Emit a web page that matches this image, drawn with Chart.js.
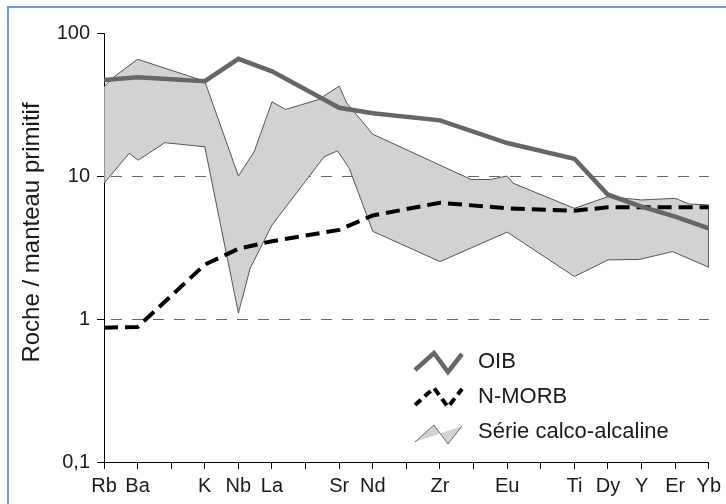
<!DOCTYPE html>
<html>
<head>
<meta charset="utf-8">
<script src="https://cdn.jsdelivr.net/npm/chart.js@4/dist/chart.umd.min.js"></script>
<style>
  html, body { margin: 0; padding: 0; background: #fff; }
  #wrap { position: relative; width: 726px; height: 504px; overflow: hidden; }
  #frame { position: absolute; left: 7px; top: 6px; width: 800px; height: 600px;
           border-left: 2px solid #6b9bd6; border-top: 2px solid #6b9bd6; }
  canvas { position: absolute; left: 0; top: 0; }
</style>
</head>
<body>
<div id="wrap">
  <div id="frame"></div>
  <canvas id="spider" width="726" height="504"></canvas>
</div>
<script>
// element order on the x axis (blank = unlabelled tick)
const xLabels = ['Rb', 'Ba', '', 'K', 'Nb', 'La', '', 'Sr', 'Nd', '', 'Zr', '', 'Eu', '', 'Ti', 'Dy', 'Y', 'Er', 'Yb']

// y ticks (log scale)
const yTickValues = [0.1, 1, 10, 100]
const yTickLabels = ['0,1', '1', '10', '100']
const yTitle = 'Roche / manteau primitif'

// OIB
const oibX = [0, 1, 3, 4, 5, 7, 8, 10, 12, 14, 15, 16, 17, 18]
const oibY = [47, 49, 46, 66, 54, 30, 27.5, 24.5, 17, 13.2, 7.4, 6.1, 5.2, 4.3]

// N-MORB
const morbX = [0, 1, 3, 4, 5, 7, 8, 10, 12, 14, 15, 16, 17, 18]
const morbY = [0.87, 0.88, 2.4, 3.1, 3.5, 4.2, 5.3, 6.5, 5.95, 5.72, 6.04, 6.04, 6.04, 6.04]

// Série calco-alcaline : upper and lower limits of the field
const upperX = [0, 0.28, 1, 3, 4, 4.47, 5, 5.41, 6.38, 7, 7.22, 8, 10.93, 11.5, 12, 12.18, 14, 15, 16, 17, 17.42, 18]
const upperY = [42, 49, 65.5, 46, 10, 14.8, 33, 29.2, 34.2, 42.5, 32.5, 19.6, 9.45, 9.45, 10, 8.9, 5.94, 7.17, 6.8, 6.98, 6.37, 6.27]
const lowerX = [0, 0.75, 1.02, 1.81, 3, 4, 4.35, 5, 6.55, 6.95, 7.3, 8, 10, 12, 12.18, 14, 15, 15.94, 16.92, 18]
const lowerY = [8.9, 14.4, 12.9, 17.1, 16, 1.1, 2.26, 4.54, 13.6, 15, 11.3, 4.1, 2.52, 4.05, 3.8, 1.98, 2.59, 2.61, 2.96, 2.3]

const FONT = "'Liberation Sans', Arial, sans-serif"

function toPoints(xs, ys) {
  return xs.map((x, i) => ({ x: x, y: ys[i] }))
}

// closed outline: upper left->right, lower right->left
function bandOutline() {
  const up = toPoints(upperX, upperY)
  const low = toPoints(lowerX, lowerY).reverse()
  return up.concat(low, [up[0]])
}

// y title + legend drawn by hand
const extrasPlugin = {
  id: 'extras',
  afterDraw(chart) {
    const ctx = chart.ctx
    const a = chart.chartArea
    const x0 = a.left + 311
    const y0 = a.top + 320

    ctx.save()
    // axis title, a bit above the middle like the original
    ctx.translate(32, (a.top + a.bottom) / 2 - 15)
    ctx.rotate(-Math.PI / 2)
    ctx.fillStyle = '#1a1a1a'
    ctx.font = '24px ' + FONT
    ctx.textAlign = 'center'
    ctx.textBaseline = 'middle'
    ctx.fillText(yTitle, 0, 0)
    ctx.restore()

    function zig(dy) {
      ctx.beginPath()
      ctx.moveTo(x0, y0 + dy + 17)
      ctx.lineTo(x0 + 19, y0 + dy)
      ctx.lineTo(x0 + 33, y0 + dy + 19)
      ctx.lineTo(x0 + 47, y0 + dy + 1)
    }

    ctx.save()
    // OIB
    ctx.strokeStyle = '#666'
    ctx.lineWidth = 4.5
    zig(0)
    ctx.stroke()
    // N-MORB
    ctx.strokeStyle = '#000'
    ctx.lineWidth = 4
    ctx.setLineDash([8, 5])
    zig(35)
    ctx.stroke()
    ctx.setLineDash([])
    // calc-alkaline field
    zig(72)
    ctx.closePath()
    ctx.fillStyle = '#d1d2d4'
    ctx.fill()
    zig(72)
    ctx.strokeStyle = '#666'
    ctx.lineWidth = 1
    ctx.stroke()

    ctx.fillStyle = '#1a1a1a'
    ctx.font = '22px ' + FONT
    ctx.textBaseline = 'middle'
    ctx.fillText('OIB', x0 + 63, y0 + 9)
    ctx.fillText('N-MORB', x0 + 63, y0 + 44)
    ctx.fillText('Série calco-alcaline', x0 + 63, y0 + 79)
    ctx.restore()
  }
}

Chart.defaults.font.family = FONT

const ctx = document.getElementById('spider').getContext('2d')

new Chart(ctx, {
  type: 'line',
  data: {
    datasets: [
      {
        label: 'OIB',
        data: toPoints(oibX, oibY),
        borderColor: '#666666',
        borderWidth: 4.5,
        pointRadius: 0,
        fill: false,
        order: 1
      },
      {
        label: 'N-MORB',
        data: toPoints(morbX, morbY),
        borderColor: '#000000',
        borderWidth: 4,
        borderDash: [14, 7],
        pointRadius: 0,
        fill: false,
        order: 2
      },
      {
        label: 'Série calco-alcaline',
        data: bandOutline(),
        borderColor: '#555555',
        borderWidth: 1,
        backgroundColor: '#d1d2d4',
        pointRadius: 0,
        fill: 'shape',
        order: 3
      }
    ]
  },
  options: {
    responsive: false,
    animation: false,
    devicePixelRatio: 1,
    layout: { padding: { left: 0, right: 15, top: 33, bottom: 0 } },
    plugins: {
      legend: { display: false },
      tooltip: { enabled: false }
    },
    scales: {
      x: {
        type: 'linear',
        min: 0,
        max: 18,
        afterBuildTicks: s => { s.ticks = xLabels.map((_, i) => ({ value: i })) },
        afterFit: s => { s.height = 42 },
        ticks: {
          autoSkip: false,
          maxRotation: 0,
          padding: 5,
          color: '#1a1a1a',
          font: { size: 20 },
          callback: v => xLabels[v]
        },
        grid: {
          drawOnChartArea: false,
          drawTicks: true,
          tickLength: 7,
          tickColor: '#000'
        },
        border: { display: true, color: '#000', width: 1 }
      },
      y: {
        type: 'logarithmic',
        min: 0.1,
        max: 100,
        afterBuildTicks: s => { s.ticks = yTickValues.map(v => ({ value: v })) },
        afterFit: s => { s.width = 104 },
        ticks: {
          padding: 7,
          color: '#1a1a1a',
          font: { size: 20 },
          callback: v => yTickLabels[yTickValues.indexOf(v)]
        },
        grid: {
          color: c => (c.tick && (c.tick.value === 1 || c.tick.value === 10)) ? '#666' : 'rgba(0,0,0,0)',
          lineWidth: 1,
          tickLength: 7,
          tickColor: '#000'
        },
        border: { display: true, color: '#000', width: 1, dash: [11, 10], dashOffset: 15 }
      }
    }
  },
  plugins: [extrasPlugin]
})
</script>
</body>
</html>
